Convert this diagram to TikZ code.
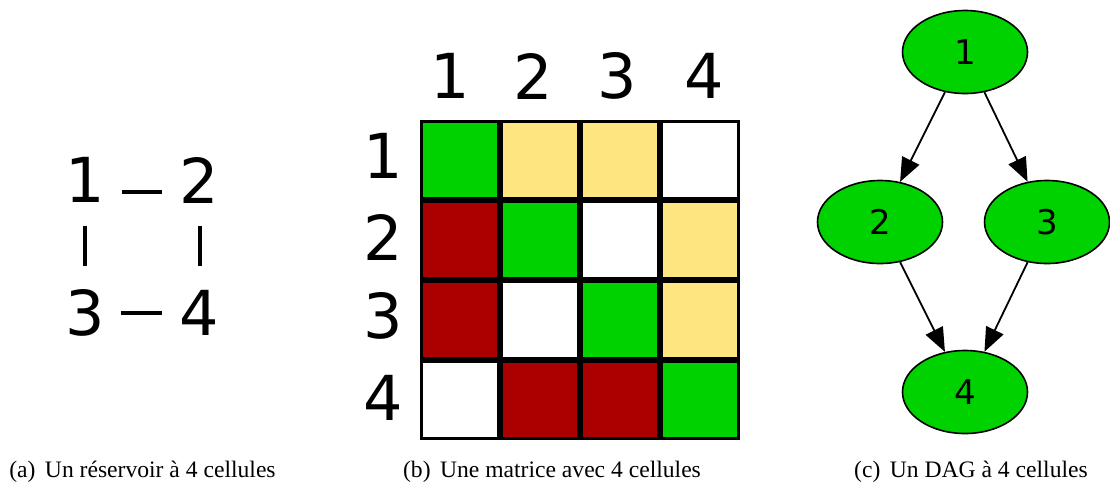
\documentclass[tikz,border=0pt]{standalone}
\usepackage{fontspec}
\setmainfont{Liberation Serif}
\newfontfamily\dejavu{DejaVu Sans}
\usetikzlibrary{shapes.geometric,arrows.meta}
\definecolor{cgreen}{RGB}{0,210,0}
\definecolor{cyellow}{RGB}{255,229,128}
\definecolor{cred}{RGB}{170,0,0}
\tikzset{
  big/.style={font=\dejavu\fontsize{62}{62}\selectfont, inner sep=0pt},
  link/.style={line width=3.3pt},
  cell/.style={draw=black, line width=2.4pt, minimum size=77pt, inner sep=0pt},
  dagnode/.style={ellipse, draw=black, line width=1.6pt, fill=cgreen, minimum width=125pt, minimum height=83pt, inner sep=0pt, font=\dejavu\fontsize{34}{34}\selectfont},
  arr/.style={line width=1.8pt, -{Triangle[length=24pt,width=19pt]}},
  captext/.style={anchor=base, inner sep=0pt, font=\fontsize{23.6}{25}\selectfont}
}
\begin{document}
\begin{tikzpicture}[x=1pt,y=-1pt]
\useasboundingbox (0,0) rectangle (1110,483);
% (a) reservoir
\node[big] (n1) at (85,180) {1};
\node[big] (n2) at (199,180) {2};
\node[big] (n3) at (85,313) {3};
\node[big] (n4) at (199,313) {4};
\draw[link] ([shift={(37,12)}]n1.center) -- ([shift={(-37,12)}]n2.center);
\draw[link] ([shift={(0,46)}]n1.center) -- ([shift={(0,-47)}]n3.center);
\draw[link] ([shift={(1,46)}]n2.center) -- ([shift={(1,-47)}]n4.center);
\draw[link] ([shift={(36,0)}]n3.center) -- ([shift={(-37,0)}]n4.center);
% (b) matrix
\fill[gray!60] (420.5,120.5) rectangle (739.5,439.5);
\node[cell, fill=cgreen]  (c11) at (460,160) {};
\node[cell, fill=cyellow] (c12) at (540,160) {};
\node[cell, fill=cyellow] (c13) at (620,160) {};
\node[cell, fill=white]   (c14) at (700,160) {};
\node[cell, fill=cred]    (c21) at (460,240) {};
\node[cell, fill=cgreen]  (c22) at (540,240) {};
\node[cell, fill=white]   (c23) at (620,240) {};
\node[cell, fill=cyellow] (c24) at (700,240) {};
\node[cell, fill=cred]    (c31) at (460,320) {};
\node[cell, fill=white]   (c32) at (540,320) {};
\node[cell, fill=cgreen]  (c33) at (620,320) {};
\node[cell, fill=cyellow] (c34) at (700,320) {};
\node[cell, fill=white]   (c41) at (460,400) {};
\node[cell, fill=cred]    (c42) at (540,400) {};
\node[cell, fill=cred]    (c43) at (620,400) {};
\node[cell, fill=cgreen]  (c44) at (700,400) {};
\node[big] (h1) at (450,76) {1};
\node[big] (h2) at (533,76) {2};
\node[big] (h3) at (617,76) {3};
\node[big] (h4) at (704,76) {4};
\node[big] (r1) at (383,156) {1};
\node[big] (r2) at (383,237) {2};
\node[big] (r3) at (383,316) {3};
\node[big] (r4) at (383,398) {4};
% (c) DAG
\node[dagnode] (d1) at (965,52) {1};
\node[dagnode] (d2) at (880,222) {2};
\node[dagnode] (d3) at (1047,222) {3};
\node[dagnode] (d4) at (965,392) {4};
\draw[arr] (d1) -- (d2);
\draw[arr] (d1) -- (d3);
\draw[arr] (d2) -- (d4);
\draw[arr] (d3) -- (d4);
% captions
\node[captext] (ca) at (142.5,477) {(a)\hspace{0.4em}Un réservoir à 4 cellules};
\node[captext] (cb) at (552,477) {(b)\hspace{0.4em}Une matrice avec 4 cellules};
\node[captext] (cc) at (971,477) {(c)\hspace{0.4em}Un DAG à 4 cellules};
\end{tikzpicture}
\end{document}
